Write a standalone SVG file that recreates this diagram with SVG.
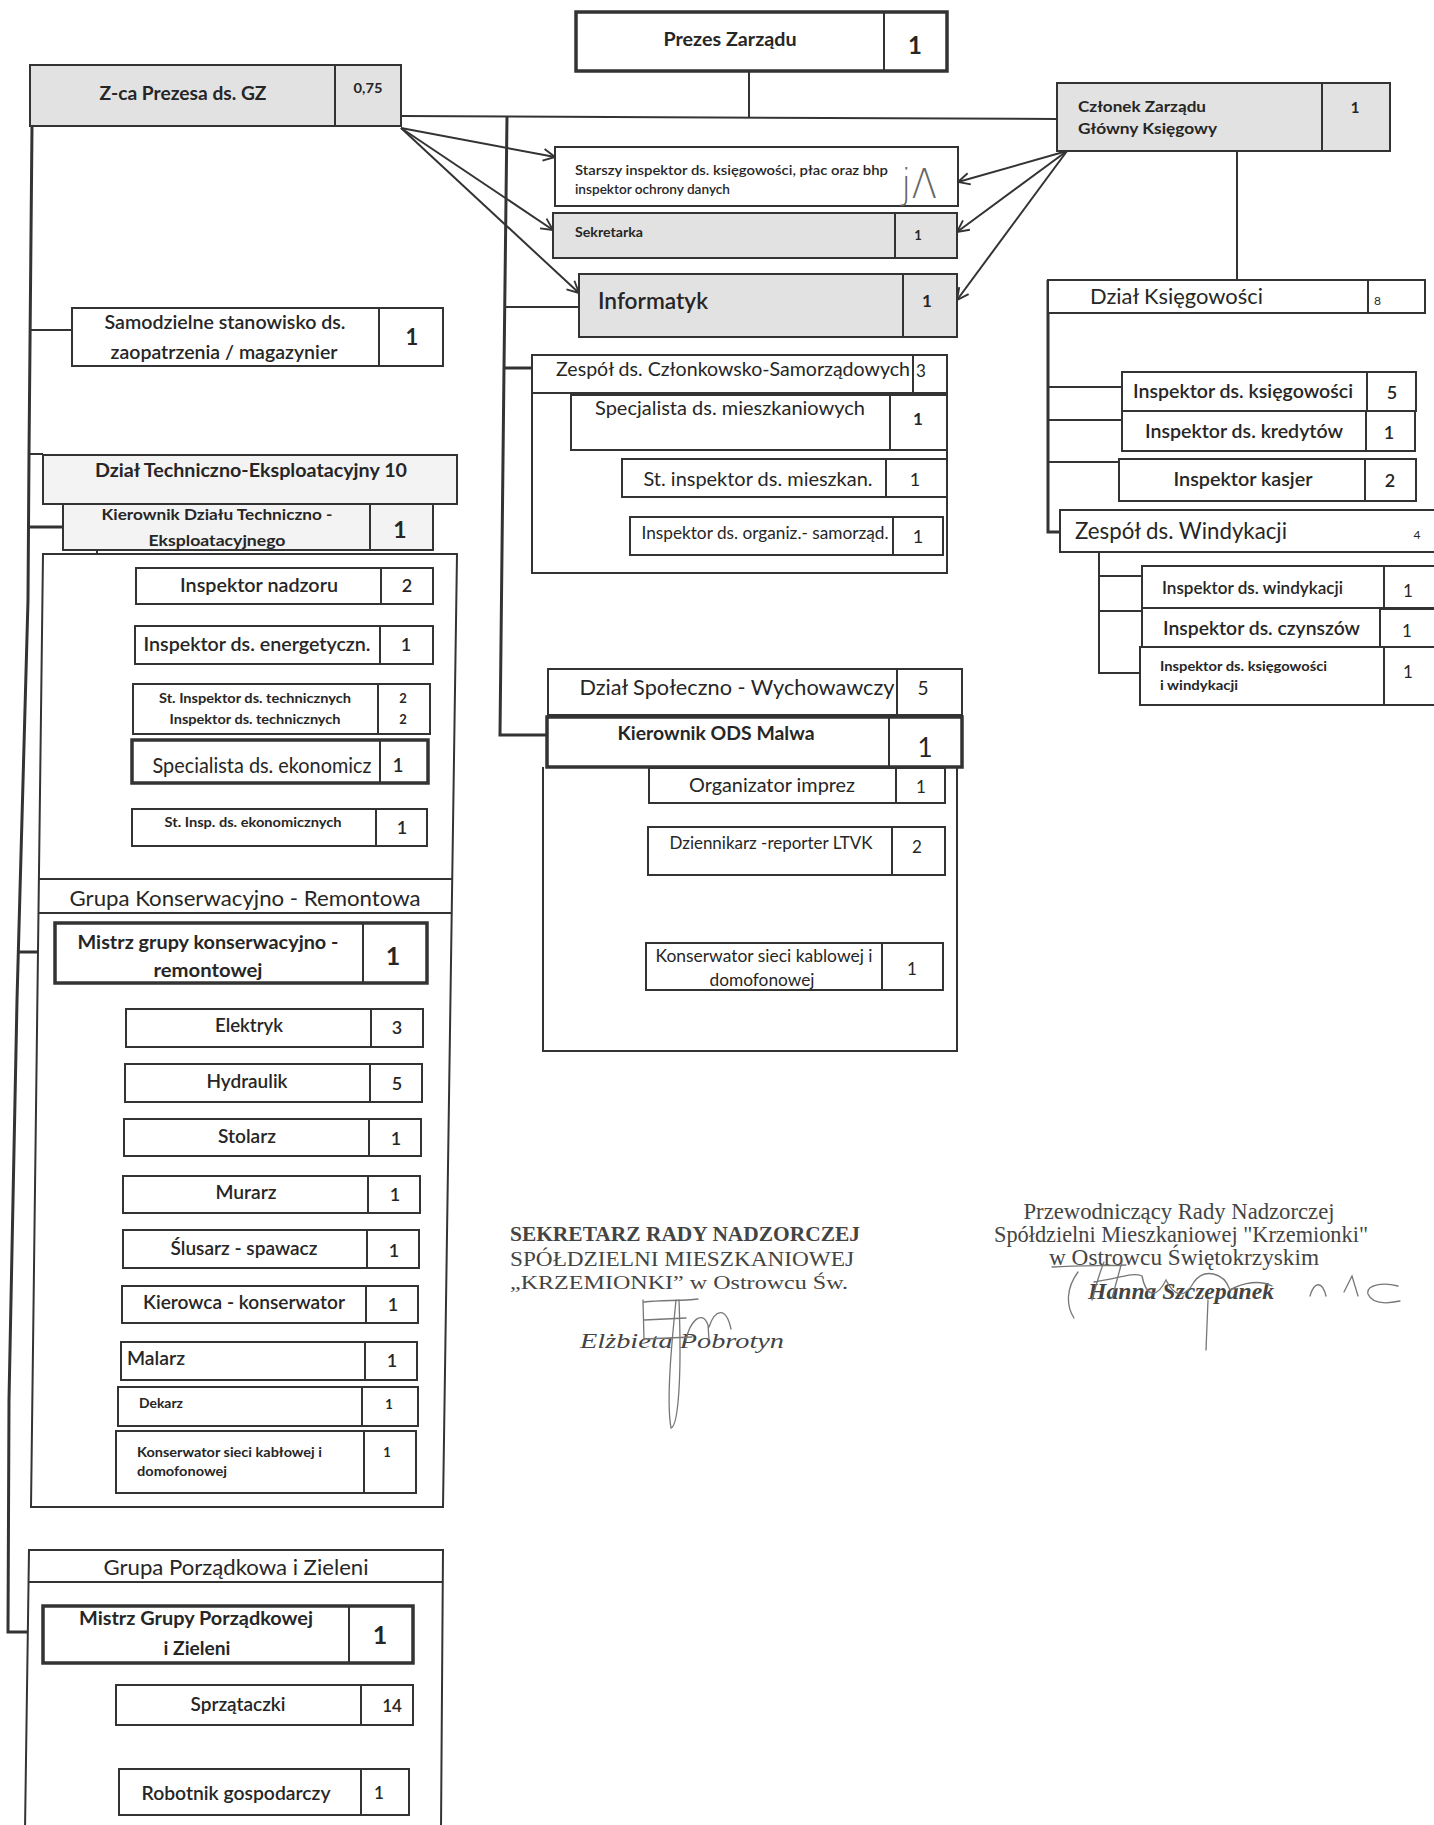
<svg xmlns="http://www.w3.org/2000/svg" width="1434" height="1825" viewBox="0 0 1434 1825">
<defs>
<style>
.box{fill:#fff;stroke:#333;stroke-width:2}
.grey{fill:#e2e2e2}
.lgrey{fill:#f3f3f3}
.thick{stroke-width:3.5}
.dv{stroke:#333;stroke-width:2}
.ln{fill:none;stroke:#333;stroke-width:2}
.main{fill:none;stroke:#333;stroke-width:3}
.t{font-family:Lato,"Open Sans","DejaVu Sans",sans-serif;fill:#262626;dominant-baseline:central;text-anchor:middle}
.s{text-anchor:start}
.b{font-weight:bold}
.m{font-weight:600}
.sf{font-family:"Liberation Serif","DejaVu Serif",serif;fill:#444;dominant-baseline:central;text-anchor:middle}
.sig{fill:none;stroke:#777;stroke-width:1.3;stroke-linecap:round}
</style>
<marker id="arr" viewBox="0 0 12 12" refX="11" refY="6" markerWidth="14" markerHeight="14" markerUnits="userSpaceOnUse" orient="auto">
<path d="M1,1 L11,6 L1,11" fill="none" stroke="#333" stroke-width="1.6"/>
</marker>
</defs>
<rect x="0" y="0" width="1434" height="1825" fill="#fff"/>

<g id="connectors">
<line class="ln" x1="749" y1="71" x2="749" y2="117"/>
<line class="ln" x1="401" y1="116" x2="1057" y2="119"/>
<polyline class="main" points="32,126 29,454 28,600 17,1000 9,1400 8,1632 43,1632"/>
<line class="ln" x1="30" y1="330" x2="72" y2="330"/>
<line class="ln" x1="29" y1="454" x2="43" y2="454"/>
<line class="main" x1="28" y1="527" x2="63" y2="527"/>
<line class="main" x1="18" y1="952" x2="55" y2="952"/>
<polyline class="main" points="507,116 504,368 500,735 547,735"/>
<line class="ln" x1="505" y1="307" x2="579" y2="307"/>
<line class="main" x1="504" y1="368" x2="535" y2="368"/>
<line class="ln" x1="401" y1="128" x2="555" y2="157" marker-end="url(#arr)"/>
<line class="ln" x1="401" y1="128" x2="553" y2="230" marker-end="url(#arr)"/>
<line class="ln" x1="401" y1="128" x2="579" y2="293" marker-end="url(#arr)"/>
<line class="ln" x1="1067" y1="151" x2="958" y2="182" marker-end="url(#arr)"/>
<line class="ln" x1="1067" y1="151" x2="957" y2="232" marker-end="url(#arr)"/>
<line class="ln" x1="1067" y1="151" x2="957" y2="300" marker-end="url(#arr)"/>
<polyline class="ln" points="97,550 97,827 132,827"/>
<line class="ln" x1="97" y1="580" x2="136" y2="580"/>
<line class="ln" x1="97" y1="644" x2="135" y2="644"/>
<line class="ln" x1="97" y1="701" x2="133" y2="701"/>
<line class="ln" x1="97" y1="761" x2="132" y2="761"/>
<polyline class="ln" points="97,983 88,1464 116,1464"/>
<line class="ln" x1="96" y1="1023" x2="126" y2="1023"/>
<line class="ln" x1="95" y1="1081" x2="125" y2="1081"/>
<line class="ln" x1="94" y1="1136" x2="124" y2="1136"/>
<line class="ln" x1="93" y1="1192" x2="123" y2="1192"/>
<line class="ln" x1="92" y1="1248" x2="123" y2="1248"/>
<line class="ln" x1="91" y1="1302" x2="122" y2="1302"/>
<line class="ln" x1="90" y1="1358" x2="121" y2="1358"/>
<line class="ln" x1="89" y1="1399" x2="118" y2="1399"/>
<polyline class="ln" points="83,1663 83,1785 119,1785"/>
<line class="ln" x1="83" y1="1703" x2="116" y2="1703"/>
<polyline class="ln" points="592,450 592,541 630,541"/>
<line class="ln" x1="592" y1="483" x2="622" y2="483"/>
<polyline class="ln" points="587,767 587,964 646,964"/>
<line class="ln" x1="587" y1="802" x2="649" y2="802"/>
<line class="ln" x1="587" y1="861" x2="648" y2="861"/>
<line class="ln" x1="1237" y1="151" x2="1237" y2="280"/>
<polyline class="main" points="1048,280 1048,532 1060,532"/>
<line class="ln" x1="1048" y1="387" x2="1122" y2="387"/>
<line class="ln" x1="1048" y1="420" x2="1122" y2="420"/>
<line class="ln" x1="1048" y1="462" x2="1119" y2="462"/>
<polyline class="ln" points="1099,552 1099,673 1140,673"/>
<line class="ln" x1="1099" y1="576" x2="1142" y2="576"/>
<line class="ln" x1="1099" y1="611" x2="1142" y2="611"/>
</g>

<g id="prezes">
<rect class="box thick" x="576" y="12" width="371" height="59"/>
<line class="dv" x1="884" y1="12" x2="884" y2="71"/>
<text class="t b" x="730" y="38" font-size="19" textLength="133" lengthAdjust="spacingAndGlyphs">Prezes Zarządu</text>
<text class="t b" x="915" y="44" font-size="24">1</text>
</g>
<g id="zca-prezesa">
<rect class="box grey" x="30" y="65" width="371" height="61" stroke-width="3"/>
<line class="dv" x1="335" y1="65" x2="335" y2="126"/>
<text class="t b" x="183" y="92" font-size="19" textLength="167" lengthAdjust="spacingAndGlyphs">Z-ca Prezesa ds. GZ</text>
<text class="t b" x="368" y="88" font-size="13" textLength="29" lengthAdjust="spacingAndGlyphs">0,75</text>
</g>
<g id="czlonek-zarzadu">
<rect class="box grey" x="1057" y="83" width="333" height="68"/>
<line class="dv" x1="1322" y1="83" x2="1322" y2="151"/>
<text class="t b s" x="1078" y="106" font-size="15.5" textLength="128" lengthAdjust="spacingAndGlyphs">Członek Zarządu</text>
<text class="t b s" x="1078" y="128" font-size="15.5" textLength="139" lengthAdjust="spacingAndGlyphs">Główny Księgowy</text>
<text class="t b" x="1355" y="107" font-size="15">1</text>
</g>
<g id="starszy-inspektor">
<rect class="box" x="555" y="147" width="403" height="59"/>
<text class="t m s" x="575" y="169" font-size="14" textLength="313" lengthAdjust="spacingAndGlyphs">Starszy inspektor ds. księgowości, płac oraz bhp</text>
<text class="t m s" x="575" y="188" font-size="14" textLength="155" lengthAdjust="spacingAndGlyphs">inspektor ochrony danych</text>
<text x="901" y="198" font-family="'DejaVu Sans',sans-serif" font-weight="200" font-size="40" fill="#666" textLength="36" lengthAdjust="spacingAndGlyphs">jΛ</text>
</g>
<g id="sekretarka">
<rect class="box grey" x="553" y="213" width="404" height="45"/>
<line class="dv" x1="895" y1="213" x2="895" y2="258"/>
<text class="t b s" x="575" y="232" font-size="13" textLength="68" lengthAdjust="spacingAndGlyphs">Sekretarka</text>
<text class="t b" x="918" y="235" font-size="13">1</text>
</g>
<g id="informatyk">
<rect class="box grey" x="579" y="274" width="378" height="63"/>
<line class="dv" x1="903" y1="274" x2="903" y2="337"/>
<text class="t m s" x="598" y="300" font-size="22" textLength="110" lengthAdjust="spacingAndGlyphs">Informatyk</text>
<text class="t b" x="927" y="300" font-size="17">1</text>
</g>

<g id="samodzielne-stanowisko">
<rect class="box" x="72" y="308" width="371" height="58"/>
<line class="dv" x1="379" y1="308" x2="379" y2="366"/>
<text class="t m" x="225" y="321" font-size="20" textLength="241" lengthAdjust="spacingAndGlyphs">Samodzielne stanowisko ds.</text>
<text class="t m" x="224" y="351" font-size="20" textLength="227" lengthAdjust="spacingAndGlyphs">zaopatrzenia / magazynier</text>
<text class="t b" x="412" y="336" font-size="22">1</text>
</g>

<g id="dzial-techniczno-eksploatacyjny">
<polygon class="box" points="43,554 457,554 443,1507 31,1507"/>
<line class="dv" x1="39" y1="879" x2="452" y2="879"/>
<line class="dv" x1="38.5" y1="913" x2="452" y2="913"/>
<rect class="box lgrey" x="43" y="455" width="414" height="49"/>
<text class="t b" x="251" y="469" font-size="19" textLength="312" lengthAdjust="spacingAndGlyphs">Dział Techniczno-Eksploatacyjny 10</text>
</g>
<g id="kierownik-dzialu-technicznego">
<rect class="box lgrey" x="63" y="504" width="370" height="46"/>
<line class="dv" x1="370" y1="504" x2="370" y2="550"/>
<text class="t b" x="217" y="513" font-size="16" textLength="231" lengthAdjust="spacingAndGlyphs">Kierownik Działu Techniczno -</text>
<text class="t b" x="217" y="539" font-size="16" textLength="137" lengthAdjust="spacingAndGlyphs">Eksploatacyjnego</text>
<text class="t b" x="400" y="529" font-size="23">1</text>
</g>
<g id="inspektor-nadzoru">
<rect class="box" x="136" y="568" width="297" height="36"/>
<line class="dv" x1="381" y1="568" x2="381" y2="604"/>
<text class="t m" x="259" y="584" font-size="19" textLength="158" lengthAdjust="spacingAndGlyphs">Inspektor nadzoru</text>
<text class="t m" x="407" y="585" font-size="18">2</text>
</g>
<g id="inspektor-energetyczny">
<rect class="box" x="135" y="626" width="298" height="38"/>
<line class="dv" x1="380" y1="626" x2="380" y2="664"/>
<text class="t m" x="257" y="643" font-size="20" textLength="227" lengthAdjust="spacingAndGlyphs">Inspektor ds. energetyczn.</text>
<text class="t m" x="406" y="644" font-size="18">1</text>
</g>
<g id="inspektor-techniczny">
<rect class="box" x="133" y="684" width="297" height="50"/>
<line class="dv" x1="378" y1="684" x2="378" y2="734"/>
<text class="t b" x="255" y="698" font-size="13" textLength="192" lengthAdjust="spacingAndGlyphs">St. Inspektor ds. technicznych</text>
<text class="t b" x="255" y="719" font-size="13" textLength="171" lengthAdjust="spacingAndGlyphs">Inspektor ds. technicznych</text>
<text class="t b" x="403" y="698" font-size="13">2</text>
<text class="t b" x="403" y="719" font-size="13">2</text>
</g>
<g id="specjalista-ekonomiczny">
<rect class="box thick" x="132" y="740" width="296" height="43"/>
<line class="dv" x1="380" y1="740" x2="380" y2="783" stroke-width="3"/>
<text class="t" x="262" y="764" font-size="21" textLength="219" lengthAdjust="spacingAndGlyphs">Specialista ds. ekonomicz</text>
<text class="t m" x="398" y="764" font-size="19">1</text>
</g>
<g id="st-insp-ekonomiczny">
<rect class="box" x="132" y="809" width="295" height="37"/>
<line class="dv" x1="376" y1="809" x2="376" y2="846"/>
<text class="t b" x="253" y="822" font-size="13" textLength="177" lengthAdjust="spacingAndGlyphs">St. Insp. ds. ekonomicznych</text>
<text class="t m" x="402" y="827" font-size="18">1</text>
</g>

<g id="grupa-konserwacyjno-remontowa">
<text class="t" x="245" y="897" font-size="21" textLength="351" lengthAdjust="spacingAndGlyphs">Grupa Konserwacyjno - Remontowa</text>
</g>
<g id="mistrz-konserwacyjny">
<rect class="box thick" x="55" y="923" width="372" height="60"/>
<line class="dv" x1="363" y1="923" x2="363" y2="983" stroke-width="3"/>
<text class="t b" x="208" y="942" font-size="18" textLength="261" lengthAdjust="spacingAndGlyphs">Mistrz grupy konserwacyjno -</text>
<text class="t b" x="208" y="970" font-size="18" textLength="109" lengthAdjust="spacingAndGlyphs">remontowej</text>
<text class="t b" x="393" y="955" font-size="25">1</text>
</g>
<g id="elektryk">
<rect class="box" x="126" y="1009" width="297" height="38"/>
<line class="dv" x1="371" y1="1009" x2="371" y2="1047"/>
<text class="t m" x="249" y="1025" font-size="18.5" textLength="68" lengthAdjust="spacingAndGlyphs">Elektryk</text>
<text class="t m" x="397" y="1027" font-size="18">3</text>
</g>
<g id="hydraulik">
<rect class="box" x="125" y="1064" width="297" height="38"/>
<line class="dv" x1="370" y1="1064" x2="370" y2="1102"/>
<text class="t m" x="247" y="1081" font-size="18.5" textLength="81" lengthAdjust="spacingAndGlyphs">Hydraulik</text>
<text class="t m" x="397" y="1083" font-size="18">5</text>
</g>
<g id="stolarz">
<rect class="box" x="124" y="1119" width="297" height="37"/>
<line class="dv" x1="369" y1="1119" x2="369" y2="1156"/>
<text class="t m" x="247" y="1136" font-size="18.5" textLength="58" lengthAdjust="spacingAndGlyphs">Stolarz</text>
<text class="t m" x="396" y="1138" font-size="18">1</text>
</g>
<g id="murarz">
<rect class="box" x="123" y="1176" width="297" height="37"/>
<line class="dv" x1="368" y1="1176" x2="368" y2="1213"/>
<text class="t m" x="246" y="1192" font-size="18.5" textLength="61" lengthAdjust="spacingAndGlyphs">Murarz</text>
<text class="t m" x="395" y="1194" font-size="18">1</text>
</g>
<g id="slusarz-spawacz">
<rect class="box" x="123" y="1230" width="296" height="38"/>
<line class="dv" x1="367" y1="1230" x2="367" y2="1268"/>
<text class="t m" x="244" y="1248" font-size="18.5" textLength="147" lengthAdjust="spacingAndGlyphs">Ślusarz - spawacz</text>
<text class="t m" x="394" y="1250" font-size="18">1</text>
</g>
<g id="kierowca-konserwator">
<rect class="box" x="122" y="1286" width="296" height="37"/>
<line class="dv" x1="366" y1="1286" x2="366" y2="1323"/>
<text class="t m" x="244" y="1302" font-size="18.5" textLength="202" lengthAdjust="spacingAndGlyphs">Kierowca - konserwator</text>
<text class="t m" x="393" y="1304" font-size="18">1</text>
</g>
<g id="malarz">
<rect class="box" x="121" y="1342" width="296" height="38"/>
<line class="dv" x1="365" y1="1342" x2="365" y2="1380"/>
<text class="t m s" x="127" y="1358" font-size="18.5" textLength="58" lengthAdjust="spacingAndGlyphs">Malarz</text>
<text class="t m" x="392" y="1360" font-size="18">1</text>
</g>
<g id="dekarz">
<rect class="box" x="118" y="1387" width="300" height="39"/>
<line class="dv" x1="362" y1="1387" x2="362" y2="1426"/>
<text class="t b s" x="139" y="1403" font-size="13" textLength="44" lengthAdjust="spacingAndGlyphs">Dekarz</text>
<text class="t b" x="389" y="1404" font-size="13">1</text>
</g>
<g id="konserwator-sieci-1">
<rect class="box" x="116" y="1431" width="300" height="62"/>
<line class="dv" x1="364" y1="1431" x2="364" y2="1493"/>
<text class="t b s" x="137" y="1452" font-size="13" textLength="185" lengthAdjust="spacingAndGlyphs">Konserwator sieci kabłowej i</text>
<text class="t b s" x="137" y="1471" font-size="13" textLength="90" lengthAdjust="spacingAndGlyphs">domofonowej</text>
<text class="t b" x="387" y="1452" font-size="13">1</text>
</g>

<g id="grupa-porzadkowa">
<polygon class="box" points="29,1550 443,1550 441,1830 25,1830"/>
<line class="dv" x1="28" y1="1582" x2="443" y2="1582" stroke-width="3"/>
<text class="t" x="236" y="1566" font-size="21" textLength="265" lengthAdjust="spacingAndGlyphs">Grupa Porządkowa i Zieleni</text>
</g>
<g id="mistrz-porzadkowy">
<rect class="box thick" x="43" y="1606" width="370" height="57"/>
<line class="dv" x1="349" y1="1606" x2="349" y2="1663" stroke-width="3"/>
<text class="t b" x="196" y="1618" font-size="18" textLength="234" lengthAdjust="spacingAndGlyphs">Mistrz Grupy Porządkowej</text>
<text class="t b" x="197" y="1648" font-size="18" textLength="67" lengthAdjust="spacingAndGlyphs">i Zieleni</text>
<text class="t b" x="380" y="1634" font-size="25">1</text>
</g>
<g id="sprzataczki">
<rect class="box" x="116" y="1685" width="297" height="40"/>
<line class="dv" x1="361" y1="1685" x2="361" y2="1725"/>
<text class="t m" x="238" y="1703" font-size="19" textLength="95" lengthAdjust="spacingAndGlyphs">Sprzątaczki</text>
<text class="t m" x="392" y="1705" font-size="17">14</text>
</g>
<g id="robotnik-gospodarczy">
<rect class="box" x="119" y="1769" width="290" height="46"/>
<line class="dv" x1="361" y1="1769" x2="361" y2="1815"/>
<text class="t m" x="236" y="1792" font-size="19" textLength="189" lengthAdjust="spacingAndGlyphs">Robotnik gospodarczy</text>
<text class="t m" x="379" y="1792" font-size="17">1</text>
</g>

<g id="zespol-czlonkowsko-samorzadowy">
<rect class="box" x="532" y="355" width="415" height="218"/>
<line class="dv" x1="532" y1="393" x2="947" y2="393"/>
<line class="dv" x1="913" y1="355" x2="913" y2="393"/>
<text class="t" x="733" y="368" font-size="19" textLength="354" lengthAdjust="spacingAndGlyphs">Zespół ds. Członkowsko-Samorządowych</text>
<text class="t" x="921" y="370" font-size="17">3</text>
</g>
<g id="specjalista-mieszkaniowy">
<rect class="box" x="571" y="395" width="376" height="55"/>
<line class="dv" x1="890" y1="395" x2="890" y2="450"/>
<text class="t" x="730" y="407" font-size="19.5" textLength="270" lengthAdjust="spacingAndGlyphs">Specjalista ds. mieszkaniowych</text>
<text class="t b" x="918" y="418" font-size="17">1</text>
</g>
<g id="st-inspektor-mieszkaniowy">
<rect class="box" x="622" y="459" width="325" height="38"/>
<line class="dv" x1="886" y1="459" x2="886" y2="497"/>
<text class="t" x="758" y="478" font-size="19.5" textLength="229" lengthAdjust="spacingAndGlyphs">St. inspektor ds. mieszkan.</text>
<text class="t" x="915" y="479" font-size="18">1</text>
</g>
<g id="inspektor-organizacyjny">
<rect class="box" x="630" y="517" width="313" height="38"/>
<line class="dv" x1="893" y1="517" x2="893" y2="555"/>
<text class="t" x="765" y="533" font-size="16.5" textLength="247" lengthAdjust="spacingAndGlyphs">Inspektor ds. organiz.- samorząd.</text>
<text class="t" x="918" y="536" font-size="18">1</text>
</g>

<g id="dzial-spoleczno-wychowawczy">
<path class="box" d="M543,767 L543,1051 L957,1051 L957,767"/>
<rect class="box" x="548" y="669" width="414" height="46"/>
<line class="dv" x1="897" y1="669" x2="897" y2="715"/>
<text class="t" x="737" y="687" font-size="20.5" textLength="315" lengthAdjust="spacingAndGlyphs">Dział Społeczno - Wychowawczy</text>
<text class="t" x="923" y="687" font-size="19">5</text>
</g>
<g id="kierownik-ods-malwa">
<rect class="box thick" x="547" y="717" width="415" height="50"/>
<line class="dv" x1="889" y1="717" x2="889" y2="767" stroke-width="3.5"/>
<text class="t b" x="716" y="733" font-size="18" textLength="197" lengthAdjust="spacingAndGlyphs">Kierownik ODS Malwa</text>
<text class="t" x="925" y="747" font-size="26">1</text>
</g>
<g id="organizator-imprez">
<rect class="box" x="649" y="768" width="296" height="35"/>
<line class="dv" x1="896" y1="768" x2="896" y2="803"/>
<text class="t" x="772" y="785" font-size="18.5" textLength="166" lengthAdjust="spacingAndGlyphs">Organizator imprez</text>
<text class="t" x="921" y="786" font-size="17">1</text>
</g>
<g id="dziennikarz">
<rect class="box" x="648" y="827" width="297" height="48"/>
<line class="dv" x1="892" y1="827" x2="892" y2="875"/>
<text class="t" x="771" y="843" font-size="16.5" textLength="203" lengthAdjust="spacingAndGlyphs">Dziennikarz -reporter LTVK</text>
<text class="t" x="917" y="846" font-size="17">2</text>
</g>
<g id="konserwator-sieci-2">
<rect class="box" x="646" y="943" width="297" height="47"/>
<line class="dv" x1="882" y1="943" x2="882" y2="990"/>
<text class="t" x="764" y="956" font-size="16.5" textLength="217" lengthAdjust="spacingAndGlyphs">Konserwator sieci kablowej i</text>
<text class="t" x="762" y="980" font-size="16.5" textLength="105" lengthAdjust="spacingAndGlyphs">domofonowej</text>
<text class="t" x="912" y="968" font-size="17">1</text>
</g>

<g id="dzial-ksiegowosci">
<rect class="box" x="1048" y="280" width="377" height="33"/>
<line class="dv" x1="1368" y1="280" x2="1368" y2="313"/>
<text class="t s" x="1090" y="295" font-size="22" textLength="173" lengthAdjust="spacingAndGlyphs">Dział Księgowości</text>
<text class="t s" x="1374" y="300" font-size="12">8</text>
</g>
<g id="inspektor-ksiegowosci">
<rect class="box" x="1122" y="372" width="294" height="39"/>
<line class="dv" x1="1367" y1="372" x2="1367" y2="411"/>
<text class="t m" x="1243" y="390" font-size="19.5" textLength="220" lengthAdjust="spacingAndGlyphs">Inspektor ds. księgowości</text>
<text class="t m" x="1392" y="392" font-size="18">5</text>
</g>
<g id="inspektor-kredytow">
<rect class="box" x="1122" y="411" width="293" height="40"/>
<line class="dv" x1="1366" y1="411" x2="1366" y2="451"/>
<text class="t m" x="1244" y="430" font-size="19.5" textLength="198" lengthAdjust="spacingAndGlyphs">Inspektor ds. kredytów</text>
<text class="t m" x="1389" y="432" font-size="18">1</text>
</g>
<g id="inspektor-kasjer">
<rect class="box" x="1119" y="459" width="297" height="42"/>
<line class="dv" x1="1365" y1="459" x2="1365" y2="501"/>
<text class="t m" x="1243" y="478" font-size="19.5" textLength="139" lengthAdjust="spacingAndGlyphs">Inspektor kasjer</text>
<text class="t m" x="1390" y="480" font-size="18">2</text>
</g>
<g id="zespol-windykacji">
<rect class="box" x="1060" y="510" width="390" height="42"/>
<text class="t s" x="1075" y="530" font-size="23" textLength="212" lengthAdjust="spacingAndGlyphs">Zespół ds. Windykacji</text>
<text class="t" x="1417" y="534" font-size="12">4</text>
</g>
<g id="inspektor-windykacji">
<rect class="box" x="1142" y="566" width="308" height="42"/>
<line class="dv" x1="1384" y1="566" x2="1384" y2="608"/>
<text class="t m s" x="1162" y="588" font-size="16.5" textLength="181" lengthAdjust="spacingAndGlyphs">Inspektor ds. windykacji</text>
<text class="t" x="1408" y="590" font-size="17">1</text>
</g>
<g id="inspektor-czynszow">
<rect class="box" x="1142" y="608" width="308" height="39"/>
<line class="dv" x1="1380" y1="608" x2="1380" y2="647"/>
<line class="dv" x1="1380" y1="609" x2="1434" y2="609" stroke-width="3"/>
<text class="t m s" x="1163" y="627" font-size="19.5" textLength="197" lengthAdjust="spacingAndGlyphs">Inspektor ds. czynszów</text>
<text class="t" x="1407" y="630" font-size="17">1</text>
</g>
<g id="inspektor-ksiegowosci-windykacji">
<rect class="box" x="1140" y="647" width="310" height="58"/>
<line class="dv" x1="1384" y1="647" x2="1384" y2="705"/>
<text class="t b s" x="1160" y="666" font-size="13" textLength="167" lengthAdjust="spacingAndGlyphs">Inspektor ds. księgowości</text>
<text class="t b s" x="1160" y="685" font-size="13" textLength="78" lengthAdjust="spacingAndGlyphs">i windykacji</text>
<text class="t" x="1408" y="671" font-size="17">1</text>
</g>

<g id="podpis-sekretarz">
<text class="sf" x="685" y="1234" font-size="20" font-weight="bold" fill="#333" textLength="350" lengthAdjust="spacingAndGlyphs">SEKRETARZ RADY NADZORCZEJ</text>
<text class="sf" x="682" y="1259" font-size="20" textLength="344" lengthAdjust="spacingAndGlyphs">SPÓŁDZIELNI MIESZKANIOWEJ</text>
<text class="sf" x="679" y="1282" font-size="19" textLength="338" lengthAdjust="spacingAndGlyphs">„KRZEMIONKI” w Ostrowcu Św.</text>
<text class="sf" x="682" y="1341" font-size="21" font-style="italic" textLength="204" lengthAdjust="spacingAndGlyphs">Elżbieta Pobrotyn</text>
<path class="sig" d="M643,1300 L644,1340 M644,1302 C662,1300 682,1301 698,1299 M644,1320 L686,1318 M644,1339 L692,1337 M686,1340 C690,1321 702,1309 708,1325 L709,1340 M709,1327 C715,1309 726,1306 731,1329"/>
<path class="sig" d="M676,1300 C672,1340 666,1400 671,1428 C678,1426 682,1380 679,1300"/>
</g>
<g id="podpis-przewodniczacy">
<text class="sf" x="1179" y="1211" font-size="23" fill="#333" textLength="311" lengthAdjust="spacingAndGlyphs">Przewodniczący Rady Nadzorczej</text>
<text class="sf" x="1181" y="1234" font-size="23" fill="#333" textLength="374" lengthAdjust="spacingAndGlyphs">Spółdzielni Mieszkaniowej "Krzemionki"</text>
<text class="sf" x="1184" y="1257" font-size="23" fill="#333" textLength="270" lengthAdjust="spacingAndGlyphs">w Ostrowcu Świętokrzyskim</text>
<text class="sf" x="1181" y="1291" font-size="24" font-style="italic" font-weight="bold" fill="#555" textLength="186" lengthAdjust="spacingAndGlyphs">Hanna Szczepanek</text>
<path class="sig" d="M1078,1272 C1066,1288 1066,1306 1074,1318 M1092,1300 C1096,1285 1100,1272 1104,1262 M1112,1298 C1116,1284 1119,1272 1122,1262 M1052,1267 C1080,1265 1105,1266 1126,1265 M1094,1282 C1120,1278 1132,1272 1142,1276 C1146,1296 1156,1300 1166,1280 C1174,1296 1184,1300 1194,1282 C1204,1268 1224,1272 1230,1290 C1244,1282 1260,1280 1272,1286 M1310,1296 C1314,1282 1322,1280 1326,1296 M1344,1292 L1352,1276 L1358,1296 M1398,1286 C1382,1282 1366,1285 1368,1294 C1372,1304 1386,1304 1400,1301 M1208,1300 L1206,1350"/>
</g>
</svg>
